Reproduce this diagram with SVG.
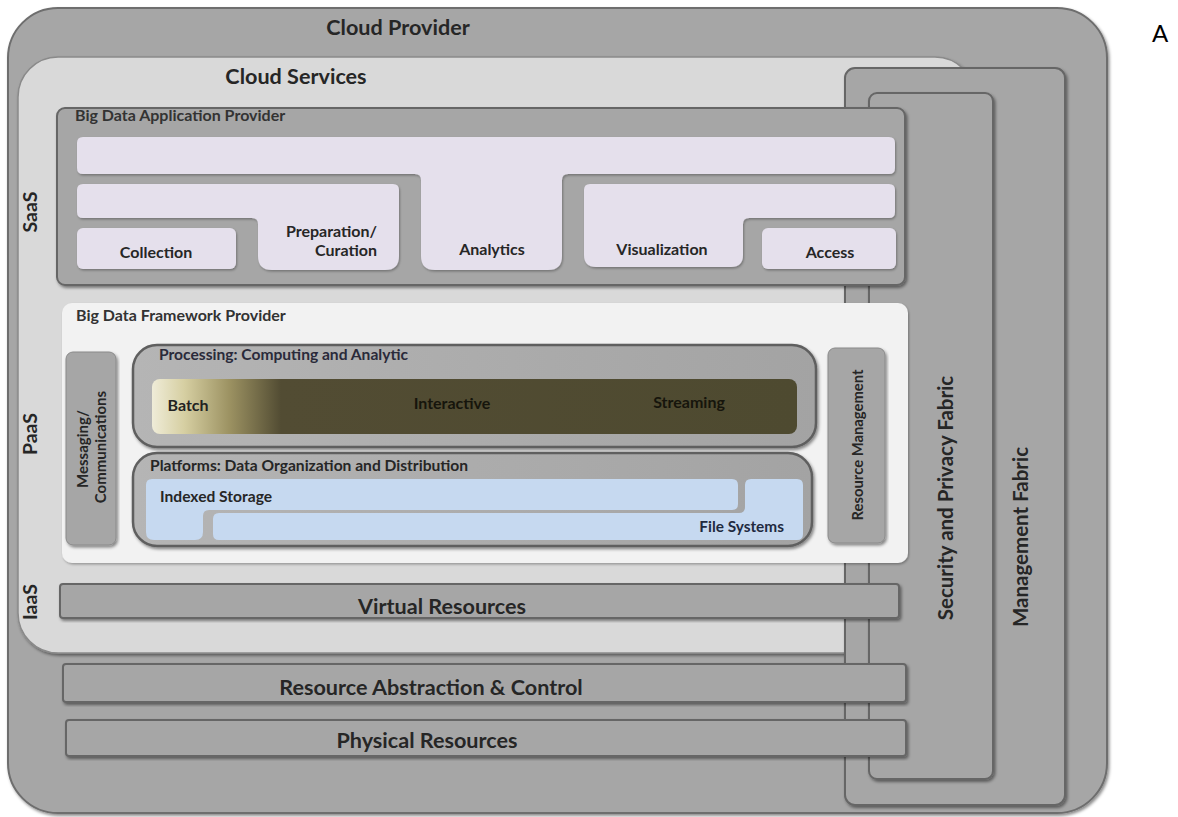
<svg xmlns="http://www.w3.org/2000/svg" width="1178" height="817" viewBox="0 0 1178 817">
<style>
.t{font-family:Lato,"Liberation Sans",sans-serif;font-weight:bold;fill:#262626}
.big{font-size:21.6px}
.lbl{font-size:16px}
.sec{font-size:16px;fill:#333}
.box{fill:#a6a6a6;stroke:#666;stroke-width:2}
.lav{fill:#e5e0ec}
.blue{fill:#c6d9f0}
</style>
<defs>
<filter id="sh" x="-5%" y="-5%" width="112%" height="118%">
<feDropShadow dx="1.5" dy="2" stdDeviation="1.5" flood-color="#000" flood-opacity="0.45"/>
</filter>
<filter id="sh2" x="-5%" y="-5%" width="112%" height="118%">
<feDropShadow dx="1" dy="1.5" stdDeviation="1" flood-color="#000" flood-opacity="0.3"/>
</filter>
<linearGradient id="proc" x1="152" y1="0" x2="797" y2="0" gradientUnits="userSpaceOnUse">
<stop offset="0" stop-color="#efecd8"/>
<stop offset="0.05" stop-color="#d6cfa2"/>
<stop offset="0.12" stop-color="#9c9262"/>
<stop offset="0.2" stop-color="#524c33"/>
<stop offset="1" stop-color="#4e4a30"/>
</linearGradient>
<linearGradient id="pbox" x1="0" y1="0" x2="1" y2="0">
<stop offset="0" stop-color="#b5b5b5"/>
<stop offset="1" stop-color="#a3a3a3"/>
</linearGradient>
</defs>

<g id="cloud-provider">
<rect x="8" y="8" width="1099" height="805" rx="50" fill="#a6a6a6" stroke="#6e6e6e" stroke-width="2" filter="url(#sh)"/>
<text class="t big" x="398" y="35" text-anchor="middle">Cloud Provider</text>
</g>

<g id="cloud-services">
<rect x="18" y="57" width="957" height="596" rx="40" fill="#d9d9d9" stroke="#8a8a8a" stroke-width="1.5" filter="url(#sh)"/>
<text class="t big" x="296" y="84" text-anchor="middle">Cloud Services</text>
</g>

<g id="management-fabric">
<rect x="845" y="68" width="220" height="737" rx="10" class="box" filter="url(#sh)"/>
<text class="t" font-size="20.5" transform="translate(1028,537) rotate(-90)" text-anchor="middle" style="font-size:20.5px">Management Fabric</text>
</g>

<g id="security-privacy-fabric">
<rect x="869" y="93" width="124" height="686" rx="8" class="box" filter="url(#sh)"/>
<text class="t" transform="translate(953,498) rotate(-90)" text-anchor="middle" style="font-size:20.5px">Security and Privacy Fabric</text>
</g>

<g id="service-labels">
<text class="t" transform="translate(37,212) rotate(-90)" text-anchor="middle" style="font-size:19.5px">SaaS</text>
<text class="t" transform="translate(37,434) rotate(-90)" text-anchor="middle" style="font-size:19.5px">PaaS</text>
<text class="t" transform="translate(37,602) rotate(-90)" text-anchor="middle" style="font-size:19.5px">IaaS</text>
</g>

<g id="big-data-application-provider">
<rect x="57" y="108" width="848" height="177" rx="8" class="box" filter="url(#sh)"/>
<text class="t sec" x="75" y="121">Big Data Application Provider</text>
<path class="lav" filter="url(#sh2)" d="M83 137 H889 Q895 137 895 143 V168 Q895 174 889 174 H568 Q562 174 562 180 V256 Q562 270 548 270 H435 Q421 270 421 256 V180 Q421 174 415 174 H83 Q77 174 77 168 V143 Q77 137 83 137 Z"/>
<path class="lav" filter="url(#sh2)" d="M83 184 H393 Q399 184 399 190 V256 Q399 270 385 270 H272 Q258 270 258 256 V224 Q258 218 252 218 H83 Q77 218 77 212 V190 Q77 184 83 184 Z"/>
<rect class="lav" filter="url(#sh2)" x="77" y="228" width="159" height="41" rx="6"/>
<path class="lav" filter="url(#sh2)" d="M590 184 H889 Q895 184 895 190 V212 Q895 218 889 218 H749 Q743 218 743 224 V255 Q743 267 731 267 H596 Q584 267 584 255 V190 Q584 184 590 184 Z"/>
<rect class="lav" filter="url(#sh2)" x="762" y="228" width="134" height="41" rx="6"/>
<text class="t lbl" x="156" y="258" text-anchor="middle">Collection</text>
<text class="t lbl" x="377" y="237" text-anchor="end">Preparation/</text>
<text class="t lbl" x="377" y="256" text-anchor="end">Curation</text>
<text class="t lbl" x="492" y="255" text-anchor="middle">Analytics</text>
<text class="t lbl" x="662" y="255" text-anchor="middle">Visualization</text>
<text class="t lbl" x="830" y="258" text-anchor="middle">Access</text>
</g>

<g id="big-data-framework-provider">
<rect x="62" y="303" width="846" height="260" rx="10" fill="#f2f2f2" filter="url(#sh2)"/>
<text class="t sec" x="76" y="321">Big Data Framework Provider</text>
</g>

<g id="messaging">
<rect x="66" y="352" width="50" height="193" rx="7" fill="#a6a6a6" stroke="#8a8a8a" stroke-width="1" filter="url(#sh)"/>
<text class="t" transform="translate(88,449) rotate(-90)" text-anchor="middle" style="font-size:15px">Messaging/</text>
<text class="t" transform="translate(106,447) rotate(-90)" text-anchor="middle" style="font-size:15px">Communications</text>
</g>

<g id="processing">
<rect x="133" y="345" width="683" height="102" rx="24" fill="url(#pbox)" stroke="#5e5e5e" stroke-width="2.5" filter="url(#sh)"/>
<text class="t" x="159" y="360" style="font-size:15.6px;fill:#2a2a3a">Processing: Computing and Analytic</text>
<rect x="152" y="379" width="645" height="55" rx="8" fill="url(#proc)"/>
<text class="t lbl" x="188" y="411" text-anchor="middle" style="fill:#222">Batch</text>
<text class="t lbl" x="452" y="409" text-anchor="middle" style="fill:#16150c">Interactive</text>
<text class="t lbl" x="689" y="408" text-anchor="middle" style="fill:#16150c">Streaming</text>
</g>

<g id="platforms">
<rect x="133" y="453" width="679" height="93" rx="24" fill="url(#pbox)" stroke="#5e5e5e" stroke-width="2.5" filter="url(#sh)"/>
<text class="t" x="150" y="471" style="font-size:15.6px">Platforms: Data Organization and Distribution</text>
<path class="blue" d="M152 479 H732 Q738 479 738 485 V504 Q738 510 732 510 H209 Q203 510 203 516 V532 Q203 540 195 540 H154 Q146 540 146 532 V485 Q146 479 152 479 Z"/>
<path class="blue" d="M751 479 H797 Q803 479 803 485 V534 Q803 540 797 540 H219 Q213 540 213 534 V519 Q213 513 219 513 H739 Q745 513 745 507 V485 Q745 479 751 479 Z"/>
<text class="t" x="160" y="502" style="font-size:15.6px">Indexed Storage</text>
<text class="t" x="784" y="532" text-anchor="end" style="font-size:15.4px;fill:#1f2a3f">File Systems</text>
</g>

<g id="resource-management">
<rect x="828" y="348" width="57" height="195" rx="7" fill="#a6a6a6" stroke="#8a8a8a" stroke-width="1" filter="url(#sh)"/>
<text class="t" transform="translate(863,445) rotate(-90)" text-anchor="middle" style="font-size:14.8px">Resource Management</text>
</g>

<g id="virtual-resources">
<rect x="60" y="584" width="839" height="34" rx="3" class="box" filter="url(#sh)"/>
<text class="t big" x="442" y="614" text-anchor="middle">Virtual Resources</text>
</g>

<g id="resource-abstraction">
<rect x="63" y="664" width="843" height="38" rx="3" class="box" filter="url(#sh)"/>
<text class="t big" x="431" y="695" text-anchor="middle">Resource Abstraction &amp; Control</text>
</g>

<g id="physical-resources">
<rect x="66" y="720" width="840" height="36" rx="3" class="box" filter="url(#sh)"/>
<text class="t big" x="427" y="748" text-anchor="middle">Physical Resources</text>
</g>

<g id="connectors"></g>

<text x="1160" y="42" text-anchor="middle" font-family="Lato,'Liberation Sans',sans-serif" font-size="24" fill="#000">A</text>
</svg>
